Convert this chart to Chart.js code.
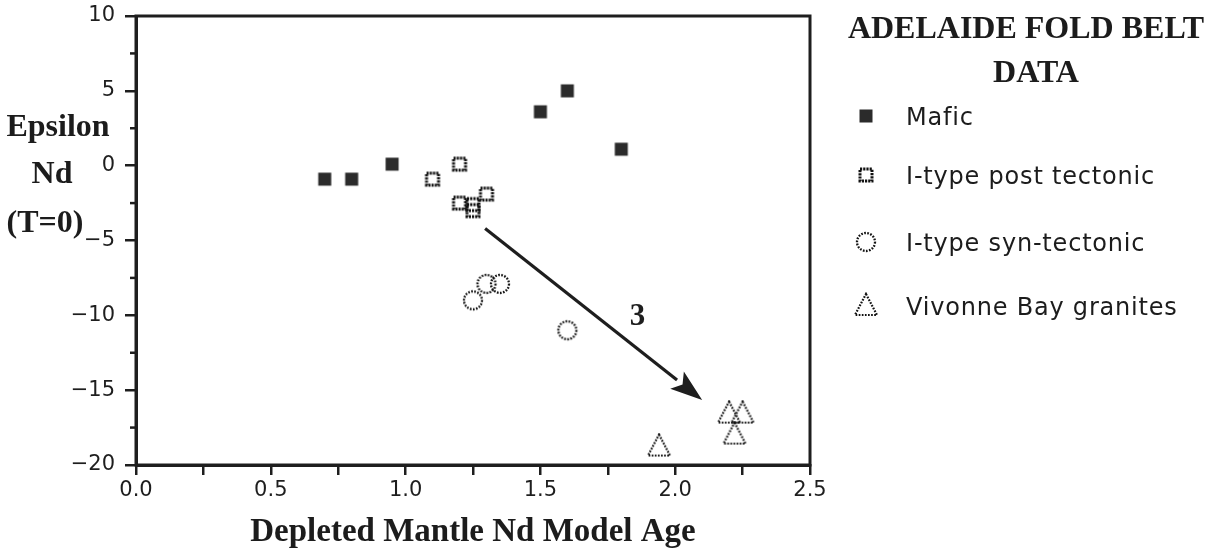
<!DOCTYPE html>
<html lang="en">
  <head>
    <meta charset="UTF-8" />
    <title>Adelaide Fold Belt Data</title>
    <script src="https://cdn.jsdelivr.net/npm/chart.js"></script>
    <style>
      body {
        margin: 0;
        background: #fff;
      }
      .wrap {
        position: relative;
        width: 1228px;
        height: 553px;
      }
      .wrap canvas#chart {
        position: absolute;
        left: 0;
        top: 0;
      }
      .serif {
        position: absolute;
        font-family: "Liberation Serif", "Times New Roman", serif;
        font-weight: bold;
        font-size: 32px;
        color: #1c1c1c;
        white-space: nowrap;
        transform: translate(-50%, -50%);
      }
      .item {
        position: absolute;
        left: 906px;
        font-family: "DejaVu Sans", sans-serif;
        font-size: 24px;
        letter-spacing: 0.8px;
        color: #1c1c1c;
        white-space: nowrap;
        transform: translateY(-50%);
      }
      .mark {
        position: absolute;
        transform: translate(-50%, -50%);
      }
    </style>
  </head>
  <body>
    <div class="wrap" id="wrap">
      <canvas id="chart" width="1228" height="553"></canvas>

      <!-- y axis title, horizontal on three lines -->
      <div class="serif" style="left: 58px; top: 125px">Epsilon</div>
      <div class="serif" style="left: 52px; top: 172px">Nd</div>
      <div class="serif" style="left: 45px; top: 221px">(T=0)</div>

      <!-- legend -->
      <div class="serif" style="left: 1026px; top: 27px">ADELAIDE FOLD BELT</div>
      <div class="serif" style="left: 1036px; top: 71px">DATA</div>
      <div id="legend"></div>
    </div>

    <script>
      // data
      const maficAge = [0.7, 0.8, 0.95, 1.5, 1.6, 1.8];
      const maficEps = [-0.9, -0.9, 0.1, 3.6, 5.0, 1.1];

      const postAge = [1.1, 1.2, 1.2, 1.25, 1.25, 1.3];
      const postEps = [-0.9, 0.1, -2.5, -2.6, -3.0, -1.9];

      const synAge = [1.25, 1.3, 1.35, 1.6];
      const synEps = [-9.0, -7.9, -7.9, -11.0];

      const vivAge = [1.94, 2.2, 2.25, 2.22];
      const vivEps = [-18.7, -16.5, -16.5, -17.9];

      const seriesNames = [
        "Mafic",
        "I-type post tectonic",
        "I-type syn-tectonic",
        "Vivonne Bay granites",
      ];

      // trend arrow (data coords) and its label
      const arrowFrom = [1.295, -4.2];
      const arrowTo = [2.1, -15.65];
      const arrowLabel = { text: "3", at: [1.86, -10.1] };

      const ink = "#1e1e1e";

      // marker images: filled square, rough open square, dotted circle, dotted triangle
      function makeMarker(kind) {
        const c = document.createElement("canvas");
        const s = kind === "tri" ? 26 : kind === "circle" ? 24 : 18;
        c.width = s;
        c.height = s;
        const g = c.getContext("2d");
        g.strokeStyle = "#111";
        g.fillStyle = "#2b2b2b";
        if (kind === "filled") {
          g.fillRect(2.5, 2.5, 13, 13);
        } else if (kind === "open") {
          g.lineWidth = 3;
          g.setLineDash([2.2, 1]);
          g.strokeRect(3, 3, 12, 12);
        } else if (kind === "circle") {
          g.lineWidth = 2.3;
          g.setLineDash([1.7, 1.4]);
          g.beginPath();
          g.arc(12, 12, 9, 0, Math.PI * 2);
          g.stroke();
        } else {
          g.lineWidth = 2.2;
          g.setLineDash([1.7, 1.4]);
          g.beginPath();
          g.moveTo(13, 2);
          g.lineTo(24, 23);
          g.lineTo(2, 23);
          g.closePath();
          g.stroke();
        }
        return c;
      }

      const kinds = ["filled", "open", "circle", "tri"];
      const markers = kinds.map(makeMarker);

      function pts(xs, ys) {
        return xs.map((x, i) => ({ x: x, y: ys[i] }));
      }

      // legend rows
      const legendRows = [117, 176, 243, 307];
      const legend = document.getElementById("legend");
      seriesNames.forEach((name, i) => {
        const m = makeMarker(kinds[i]);
        m.className = "mark";
        m.style.left = "866px";
        m.style.top = legendRows[i] - (i === 3 ? 2 : 1) + "px";
        legend.appendChild(m);
        const t = document.createElement("div");
        t.className = "item";
        t.style.top = legendRows[i] + "px";
        t.textContent = name;
        legend.appendChild(t);
      });

      const isMajorY = (v) => Math.abs(v % 5) < 1e-9;

      // frame around the plot, short minor ticks on y, arrow
      const extras = {
        id: "extras",
        afterDatasetsDraw(chart) {
          const { ctx, chartArea: a, scales } = chart;
          const x = scales.x;
          const y = scales.y;
          ctx.save();
          ctx.strokeStyle = ink;
          ctx.lineWidth = 3;
          ctx.strokeRect(a.left, a.top, a.right - a.left, a.bottom - a.top);

          ctx.lineWidth = 2.5;
          y.ticks.forEach((t) => {
            if (isMajorY(t.value)) return;
            const py = y.getPixelForValue(t.value);
            ctx.beginPath();
            ctx.moveTo(a.left - 6, py);
            ctx.lineTo(a.left, py);
            ctx.stroke();
          });

          const x0 = x.getPixelForValue(arrowFrom[0]);
          const y0 = y.getPixelForValue(arrowFrom[1]);
          const x1 = x.getPixelForValue(arrowTo[0]);
          const y1 = y.getPixelForValue(arrowTo[1]);
          const ang = Math.atan2(y1 - y0, x1 - x0);
          const headLen = 32;
          const headW = 11;
          const bx = x1 - headLen * Math.cos(ang);
          const by = y1 - headLen * Math.sin(ang);

          ctx.lineWidth = 3.2;
          ctx.beginPath();
          ctx.moveTo(x0, y0);
          ctx.lineTo(bx, by);
          ctx.stroke();

          ctx.fillStyle = ink;
          ctx.beginPath();
          ctx.moveTo(x1, y1);
          ctx.lineTo(bx + headW * Math.sin(ang), by - headW * Math.cos(ang));
          ctx.lineTo(x1 - (headLen - 7) * Math.cos(ang), y1 - (headLen - 7) * Math.sin(ang));
          ctx.lineTo(bx - headW * Math.sin(ang), by + headW * Math.cos(ang));
          ctx.closePath();
          ctx.fill();

          ctx.font = "bold 31px 'Liberation Serif', serif";
          ctx.textAlign = "center";
          ctx.textBaseline = "middle";
          ctx.fillText(
            arrowLabel.text,
            x.getPixelForValue(arrowLabel.at[0]),
            y.getPixelForValue(arrowLabel.at[1])
          );
          ctx.restore();
        },
      };

      const tickFont = { family: "DejaVu Sans", size: 21 };
      const minus = (s) => s.replace("-", "\u2212");

      new Chart(document.getElementById("chart"), {
        type: "scatter",
        data: {
          datasets: [
            { label: seriesNames[0], data: pts(maficAge, maficEps), pointStyle: markers[0] },
            { label: seriesNames[1], data: pts(postAge, postEps), pointStyle: markers[1] },
            { label: seriesNames[2], data: pts(synAge, synEps), pointStyle: markers[2] },
            { label: seriesNames[3], data: pts(vivAge, vivEps), pointStyle: markers[3] },
          ],
        },
        options: {
          responsive: false,
          animation: false,
          layout: { padding: { left: 0, top: 16, right: 418, bottom: 0 } },
          plugins: {
            legend: { display: false },
            tooltip: { enabled: false },
          },
          scales: {
            x: {
              type: "linear",
              min: 0,
              max: 2.5,
              afterFit(scale) {
                scale.height = 88;
              },
              border: { display: true, color: ink, width: 3 },
              grid: {
                drawOnChartArea: false,
                drawTicks: true,
                tickLength: 10,
                color: ink,
                lineWidth: 2.5,
              },
              ticks: {
                stepSize: 0.25,
                autoSkip: false,
                maxRotation: 0,
                padding: 3,
                color: ink,
                font: tickFont,
                callback: (v) => (Math.abs(v * 2 - Math.round(v * 2)) < 1e-9 ? v.toFixed(1) : ""),
              },
              title: {
                display: true,
                text: "Depleted Mantle Nd Model Age",
                color: "#1c1c1c",
                font: { family: "Liberation Serif", size: 33, weight: "bold" },
                padding: { top: 0, bottom: 1 },
              },
            },
            y: {
              type: "linear",
              min: -20,
              max: 10,
              afterFit(scale) {
                scale.width = 136;
                scale.paddingTop = 0;
                scale.paddingBottom = 0;
              },
              border: { display: true, color: ink, width: 3 },
              grid: {
                drawOnChartArea: false,
                drawTicks: true,
                tickLength: 11,
                color: ink,
                tickColor: (c) => (isMajorY(c.tick.value) ? ink : "rgba(0,0,0,0)"),
                lineWidth: 2.5,
              },
              ticks: {
                stepSize: 2.5,
                autoSkip: false,
                padding: 10,
                color: ink,
                font: tickFont,
                callback: (v) => (isMajorY(v) ? minus(String(v)) : ""),
              },
            },
          },
        },
        plugins: [extras],
      });
    </script>
  </body>
</html>
